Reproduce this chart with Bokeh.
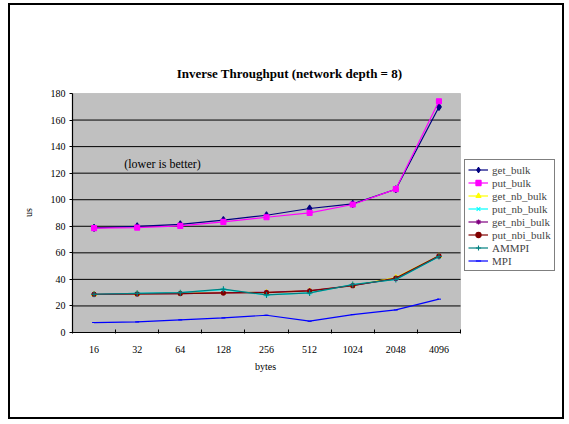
import math
from bokeh.plotting import figure
from bokeh.models import (Legend, LegendItem, Label, FixedTicker, Range1d, BoxAnnotation)
from bokeh.embed import file_html
from bokeh.resources import INLINE

sizes = ["16", "32", "64", "128", "256", "512", "1024", "2048", "4096"]
get_bulk = [78.8, 80.0, 81.5, 84.6, 88.3, 93.4, 96.9, 107.9, 169.9]
put_bulk = [78.6, 79.0, 80.3, 83.3, 86.8, 90.1, 96.4, 108.0, 174.2]
get_nb_bulk = [28.8, 29.0, 29.5, 30.0, 30.2, 31.5, 35.4, 41.4, 57.7]
put_nb_bulk = [28.8, 29.5, 30.0, 32.3, 28.3, 29.8, 36.0, 40.0, 57.0]
get_nbi_bulk = [28.8, 29.0, 29.3, 29.8, 30.3, 31.6, 35.4, 40.5, 57.5]
put_nbi_bulk = [28.8, 29.0, 29.3, 29.8, 30.1, 31.3, 35.2, 41.0, 57.7]
AMMPI = [28.8, 29.5, 30.0, 32.6, 28.3, 29.8, 36.1, 40.0, 57.2]
MPI = [7.5, 8.0, 9.5, 11.0, 13.0, 8.5, 13.5, 17.0, 25.1]
y_ticks = [0, 20, 40, 60, 80, 100, 120, 140, 160, 180]

series = [
    ("get_bulk", get_bulk, "#000080", "diamond", 7),
    ("put_bulk", put_bulk, "#ff00ff", "square", 5),
    ("get_nb_bulk", get_nb_bulk, "#ffff00", "triangle", 5),
    ("put_nb_bulk", put_nb_bulk, "#00ffff", "x", 5),
    ("get_nbi_bulk", get_nbi_bulk, "#800080", "asterisk", 5),
    ("put_nbi_bulk", put_nbi_bulk, "#800000", "circle", 4),
    ("AMMPI", AMMPI, "#008080", "cross", 6),
    ("MPI", MPI, "#0000ff", "dash", 4),
]

FONT = "Liberation Serif"
N = len(sizes)
xs = [i + 0.5 for i in range(N)]
YMAX = y_ticks[-1]

# whole canvas is the frame; grey plot area drawn as a box in data units
W, H = 556, 416
p = figure(width=W, height=H, output_backend="svg", toolbar_location=None,
           x_range=Range1d(-N * 62 / 388, N * (W - 62) / 388),
           y_range=Range1d(-YMAX * 89 / 239, YMAX * (H - 89) / 239),
           min_border=0)
p.styles = {"border": "2px solid black", "margin-left": "8px", "margin-top": "3px"}
p.background_fill_color = "white"
p.border_fill_color = "white"
p.outline_line_color = None

area = BoxAnnotation(left=0, right=N, bottom=0, top=YMAX, fill_color="#c0c0c0",
                     fill_alpha=1, line_color="#808080", line_width=1, level="underlay")
p.add_layout(area)

# axes
p.xaxis.fixed_location = 0
p.xaxis.bounds = (0, N)
p.xaxis.ticker = FixedTicker(ticks=xs, minor_ticks=list(range(N + 1)))
p.xaxis.major_label_overrides = {x: s for x, s in zip(xs, sizes)}
p.xaxis.major_tick_line_color = None
p.xaxis.major_tick_in = 0
p.xaxis.major_tick_out = 0
p.xaxis.minor_tick_in = 3
p.xaxis.minor_tick_out = 1
p.xaxis.minor_tick_line_color = "black"
p.xaxis.major_label_standoff = 12

p.yaxis.fixed_location = 0
p.yaxis.bounds = (0, YMAX)
p.yaxis.ticker = FixedTicker(ticks=y_ticks, minor_ticks=[])
p.yaxis.major_tick_in = 0
p.yaxis.major_tick_out = 3
p.yaxis.major_label_standoff = 4

for ax in (p.xaxis, p.yaxis):
    ax.axis_line_color = "black"
    ax.axis_line_width = 1.2
    ax.major_label_text_font = FONT
    ax.major_label_text_font_size = "10px"
    ax.major_label_text_color = "black"

p.xgrid.visible = False
p.ygrid.visible = False
grid_y = y_ticks[1:-1]
p.segment(x0=[0] * len(grid_y), y0=grid_y, x1=[N] * len(grid_y), y1=grid_y,
          line_color="black", line_width=1)

items = []
for name, vals, color, marker, size in series:
    r1 = p.line(xs, vals, line_color=color, line_width=1.2)
    r2 = p.scatter(xs, vals, marker=marker, size=size, line_color=color,
                   fill_color=color, line_width=1.1)
    items.append(LegendItem(label=name, renderers=[r1, r2]))

legend = Legend(items=items, location=(454, 150), padding=3, margin=0, spacing=0,
                label_height=13, glyph_height=13, glyph_width=20, label_standoff=4,
                label_text_font=FONT, label_text_font_size="11px",
                border_line_color="black", border_line_width=1.5,
                background_fill_color="white", background_fill_alpha=1)
p.add_layout(legend, "center")

def screen_label(x, y, text, size="10px", style="normal", angle=0):
    return Label(x=x, y=y, x_units="screen", y_units="screen", text=text,
                 text_align="center", text_baseline="middle", angle=angle,
                 text_font=FONT, text_font_size=size, text_font_style=style,
                 text_color="black")

p.add_layout(screen_label(279, 348, "Inverse Throughput (network depth = 8)",
                          size="13px", style="bold"))
p.add_layout(screen_label(152, 258, "(lower is better)", size="12px"))
p.add_layout(screen_label(18, 209, "us", angle=math.pi / 2))
p.add_layout(screen_label(255, 55, "bytes"))

open("out.html", "w").write(file_html(p, INLINE))
